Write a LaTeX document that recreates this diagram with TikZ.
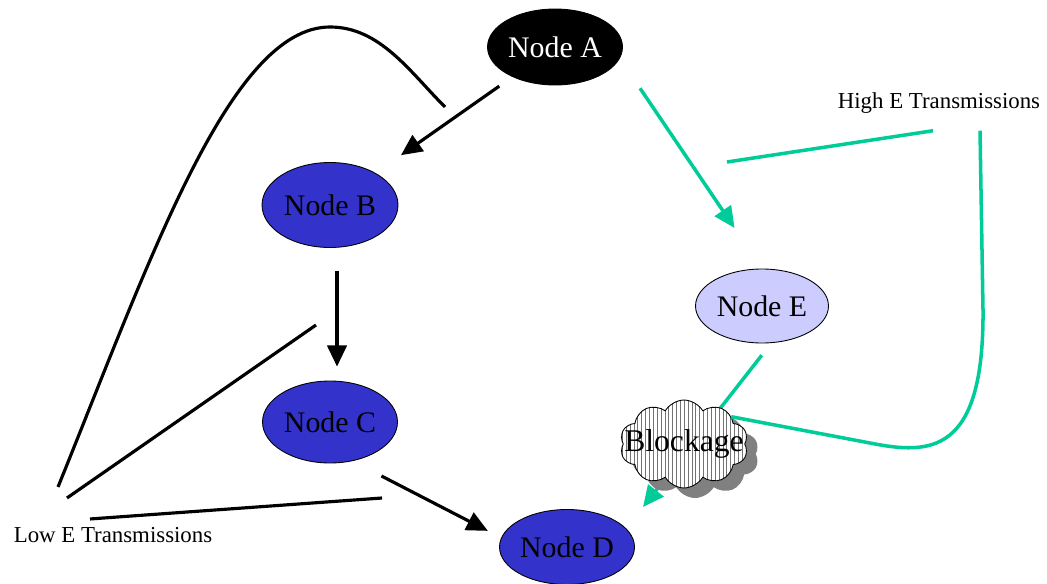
\documentclass[tikz,border=0pt]{standalone}
\usepackage{fontspec}
\setmainfont{Liberation Serif}
\usetikzlibrary{arrows.meta, shapes.geometric, shapes.symbols, shadows, patterns.meta}
\definecolor{nodeblue}{RGB}{51,51,204}
\definecolor{nodelilac}{RGB}{204,204,255}
\definecolor{highgreen}{RGB}{0,204,153}

\begin{document}
\begin{tikzpicture}[x=0.02cm, y=-0.02cm,
    ell/.style={ellipse, draw=black, line width=0.5pt, inner sep=0pt,
        font=\fontsize{17}{20}\selectfont},
    lowline/.style={line width=1.8pt, black},
    highline/.style={line width=2pt, highgreen},
    tip/.style={-{Triangle[length=12pt, width=11pt]}},
    caption/.style={inner sep=0pt, font=\fontsize{13}{15}\selectfont},
    cloudy/.style={cloud, cloud puffs=10, cloud puff arc=120, aspect=1.45,
        draw=black, line width=0.5pt, inner sep=0pt,
        minimum width=2.56cm, minimum height=1.76cm,
        drop shadow={shadow xshift=0.22cm, shadow yshift=-0.2cm, fill=gray, opacity=1},
        preaction={fill=white},
        pattern={Lines[angle=90, distance=2.2pt, line width=0.35pt]}, pattern color=black!55,
        font=\fontsize{18}{20}\selectfont}]
    \useasboundingbox (0,0) rectangle (1047,584);

    % nodes
    \node[ell, fill=black, text=white, minimum width=2.7cm, minimum height=1.52cm] (A) at (555,47) {Node A};
    \node[ell, fill=nodeblue, minimum width=2.72cm, minimum height=1.7cm] (B) at (330,205) {Node B};
    \node[ell, fill=nodeblue, minimum width=2.7cm, minimum height=1.64cm] (C) at (330,422) {Node C};
    \node[ell, fill=nodeblue, minimum width=2.7cm, minimum height=1.5cm] (D) at (567,547) {Node D};
    \node[ell, fill=nodelilac, minimum width=2.66cm, minimum height=1.48cm] (E) at (762,306) {Node E};

    \node[caption] (hiE) at (939,103) {High E Transmissions};
    \node[caption] (lowE) at (113,535) {Low E Transmissions};

    \coordinate (lowAB) at (445,107);
    \coordinate (lowBC) at (316,325);
    \coordinate (lowCD) at (382,498);
    \coordinate (highAE) at (727,162);
    \coordinate (dTip) at (643,507);

    % low energy path
    \draw[lowline, tip, shorten <=0.32cm, shorten >=0.62cm] (A) -- (B);
    \draw[lowline, tip, shorten <=0.46cm, shorten >=0.28cm] ([xshift=0.14cm]B.south) -- ([xshift=0.14cm]C.north);
    \draw[lowline, tip, shorten <=0.65cm, shorten >=0.3cm] (C.-60) -- (D.172);

    % high energy path
    \draw[highline, tip, shorten <=0.72cm, shorten >=0.98cm] (A.-10) -- (E.north);
    \draw[highline, tip, shorten <=0.3cm] ([xshift=0.18cm]E.south) -- (dTip);

    \node[cloudy] (blk) at (684,444) {\makebox[0pt]{Blockage}};

    % labels
    \draw[lowline] ([shift={(-55,-40)}]lowE.north) .. controls (150,260) and (230,27) .. (330,27)
        .. controls (380,27) and (410,72) .. (lowAB);
    \draw[lowline] ([shift={(-46,-29)}]lowE.north) -- (lowBC);
    \draw[lowline] ([shift={(-23,-8)}]lowE.north) -- (lowCD);
    \draw[highline] ([shift={(-6,17)}]hiE.south) -- (highAE);
    \draw[highline] ([shift={(41,17)}]hiE.south) -- (983,310)
        .. controls (984,455) and (930,455) .. (870,443) -- (blk.30);
\end{tikzpicture}
\end{document}
